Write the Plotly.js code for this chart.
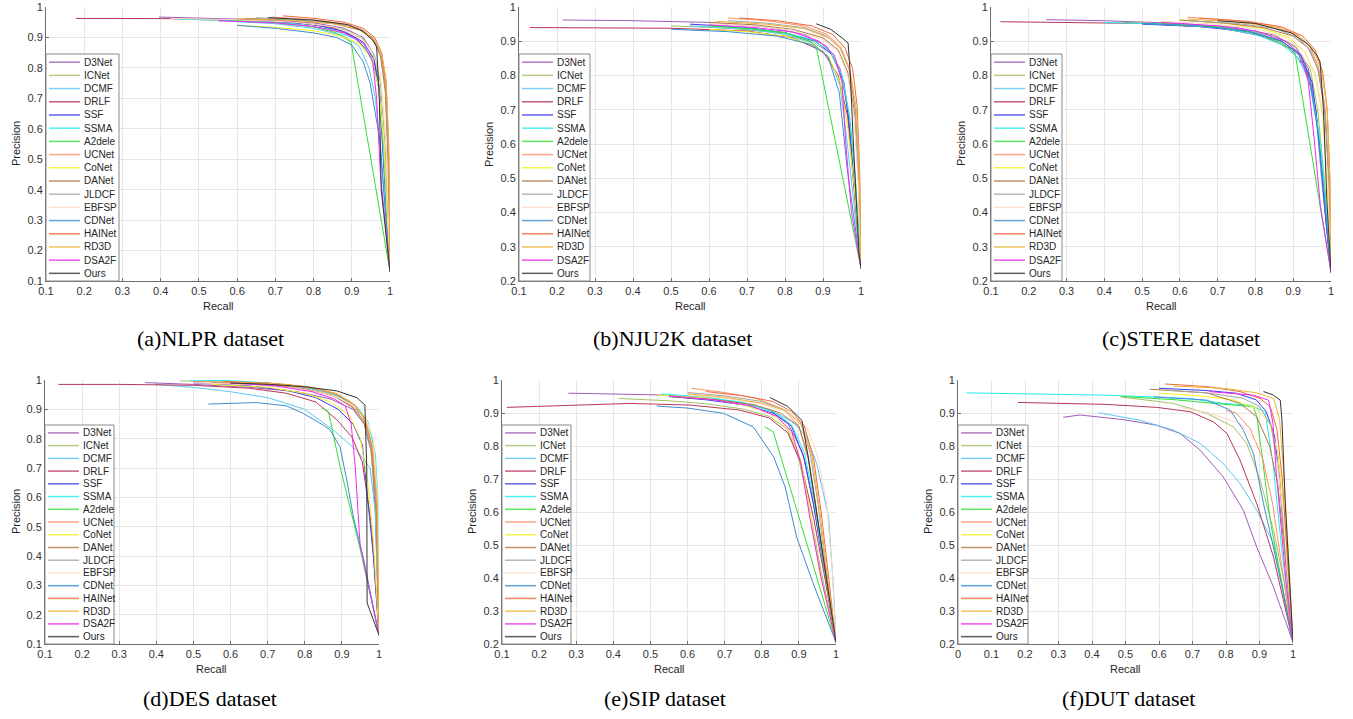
<!DOCTYPE html>
<html><head><meta charset="utf-8">
<script src="https://cdn.plot.ly/plotly-3.0.1.min.js"></script>
<style>html,body{margin:0;padding:0;background:#fff;}#chart{width:1353px;height:719px;}</style>
</head><body><div id="chart"></div>
<script>
const METHODS = ['D3Net','ICNet','DCMF','DRLF','SSF','SSMA','A2dele','UCNet','CoNet','DANet','JLDCF','EBFSP','CDNet','HAINet','RD3D','DSA2F','Ours'];
const COLORS = ['#A05CB8','#A3C166','#5CC8F2','#B8375A','#3A3AF0','#22EEEE','#33DD33','#FF8F66','#F2F222','#B07A45','#A6A6A6','#FFD9C0','#3C8DD0','#F06A3A','#EEB43A','#F02AF0','#333333'];
const CAPTIONS = ['(a)NLPR dataset','(b)NJU2K dataset','(c)STERE dataset','(d)DES dataset','(e)SIP dataset','(f)DUT dataset'];
const X_TICKS_01 = [0.1,0.2,0.3,0.4,0.5,0.6,0.7,0.8,0.9,1];
const X_TICKS_00 = [0,0.1,0.2,0.3,0.4,0.5,0.6,0.7,0.8,0.9,1];
const Y_TICKS_01 = [0.1,0.2,0.3,0.4,0.5,0.6,0.7,0.8,0.9,1];
const Y_TICKS_02 = [0.2,0.3,0.4,0.5,0.6,0.7,0.8,0.9,1];

// ---- NLPR (recall / precision per method, in METHODS order)
const NLPR_R = [
 [0.396,0.55,0.7,0.8,0.88,0.93,0.955,0.972,0.985,1],
 [0.5,0.7,0.8,0.88,0.93,0.96,0.975,0.987,1],
 [0.55,0.7,0.8,0.88,0.92,0.945,0.962,0.977,1],
 [0.178,0.4,0.6,0.75,0.85,0.91,0.95,0.97,0.985,1],
 [0.55,0.7,0.8,0.88,0.93,0.958,0.972,0.982,1],
 [0.45,0.6,0.75,0.85,0.91,0.95,0.97,0.982,1],
 [0.58,0.7,0.8,0.86,0.898,1],
 [0.69,0.8,0.88,0.93,0.96,0.976,0.987,0.994,1],
 [0.6,0.7,0.8,0.87,0.92,0.95,0.97,0.984,1],
 [0.62,0.75,0.85,0.92,0.955,0.975,0.988,0.995,1],
 [0.65,0.75,0.85,0.92,0.955,0.976,0.989,0.996,1],
 [0.426,0.6,0.75,0.85,0.92,0.95,0.975,0.99,1],
 [0.6,0.7,0.8,0.86,0.9,0.93,0.948,0.961,0.974,1],
 [0.72,0.8,0.88,0.93,0.96,0.978,0.99,0.997,1],
 [0.6,0.75,0.85,0.92,0.955,0.978,0.99,0.997,1],
 [0.55,0.7,0.8,0.88,0.93,0.955,0.965,0.975,1],
 [0.68,0.8,0.89,0.93,0.955,0.965,0.972,0.977,1]
];
const NLPR_P = [
 [0.967,0.963,0.957,0.948,0.93,0.9,0.85,0.74,0.5,0.13],
 [0.958,0.952,0.943,0.925,0.895,0.84,0.75,0.55,0.13],
 [0.955,0.945,0.93,0.905,0.87,0.8,0.7,0.5,0.13],
 [0.9625,0.962,0.958,0.95,0.932,0.9,0.84,0.74,0.5,0.13],
 [0.958,0.952,0.942,0.92,0.885,0.83,0.72,0.5,0.13],
 [0.96,0.956,0.945,0.925,0.895,0.84,0.74,0.55,0.13],
 [0.958,0.948,0.935,0.915,0.885,0.13],
 [0.967,0.958,0.945,0.925,0.89,0.84,0.75,0.55,0.13],
 [0.94,0.933,0.922,0.905,0.88,0.83,0.74,0.55,0.13],
 [0.963,0.957,0.946,0.925,0.895,0.84,0.72,0.5,0.13],
 [0.965,0.958,0.948,0.93,0.9,0.85,0.75,0.5,0.13],
 [0.9625,0.958,0.95,0.935,0.905,0.86,0.78,0.55,0.13],
 [0.94,0.93,0.915,0.9,0.875,0.82,0.75,0.65,0.56,0.13],
 [0.971,0.963,0.95,0.93,0.9,0.85,0.75,0.5,0.13],
 [0.962,0.955,0.945,0.928,0.9,0.85,0.76,0.55,0.13],
 [0.955,0.948,0.936,0.915,0.88,0.82,0.7,0.45,0.13],
 [0.965,0.957,0.942,0.92,0.89,0.87,0.7,0.4,0.13]
];

// ---- NJU2K
const NJU2K_R = [
 [0.215,0.4,0.6,0.75,0.85,0.91,0.945,0.965,0.98,1],
 [0.5,0.65,0.78,0.87,0.92,0.95,0.97,0.985,1],
 [0.55,0.7,0.8,0.87,0.915,0.945,0.962,0.978,1],
 [0.128,0.3,0.5,0.7,0.82,0.9,0.94,0.965,0.98,1],
 [0.55,0.7,0.8,0.88,0.925,0.955,0.97,0.985,1],
 [0.6,0.7,0.8,0.87,0.92,0.95,0.97,0.985,1],
 [0.6,0.7,0.8,0.865,0.882,1],
 [0.65,0.75,0.85,0.91,0.945,0.97,0.985,0.995,1],
 [0.6,0.7,0.8,0.87,0.915,0.945,0.965,0.982,1],
 [0.6,0.72,0.82,0.9,0.94,0.965,0.982,0.993,1],
 [0.65,0.75,0.85,0.91,0.945,0.968,0.985,0.995,1],
 [0.6,0.72,0.82,0.9,0.94,0.965,0.982,0.993,1],
 [0.5,0.65,0.78,0.87,0.913,0.943,0.965,0.985,1],
 [0.68,0.78,0.87,0.925,0.958,0.978,0.99,0.997,1],
 [0.62,0.75,0.85,0.915,0.95,0.972,0.988,0.996,1],
 [0.6,0.72,0.82,0.89,0.93,0.95,0.96,0.975,1],
 [0.882,0.92,0.95,0.966,0.972,0.98,0.995,1]
];
const NJU2K_P = [
 [0.962,0.96,0.955,0.942,0.92,0.885,0.82,0.7,0.5,0.237],
 [0.945,0.938,0.925,0.9,0.865,0.8,0.68,0.5,0.237],
 [0.945,0.935,0.92,0.895,0.855,0.77,0.62,0.45,0.237],
 [0.94,0.94,0.938,0.93,0.91,0.87,0.8,0.68,0.5,0.237],
 [0.95,0.94,0.925,0.9,0.86,0.78,0.65,0.45,0.237],
 [0.945,0.938,0.925,0.905,0.87,0.8,0.68,0.5,0.237],
 [0.945,0.937,0.925,0.9,0.885,0.237],
 [0.968,0.96,0.945,0.92,0.885,0.82,0.7,0.5,0.237],
 [0.935,0.928,0.915,0.89,0.855,0.78,0.65,0.48,0.237],
 [0.955,0.948,0.935,0.91,0.875,0.81,0.7,0.5,0.237],
 [0.96,0.953,0.94,0.915,0.88,0.82,0.7,0.5,0.237],
 [0.952,0.945,0.932,0.905,0.87,0.8,0.68,0.48,0.237],
 [0.935,0.928,0.915,0.89,0.856,0.749,0.515,0.35,0.237],
 [0.968,0.96,0.945,0.92,0.88,0.82,0.71,0.5,0.237],
 [0.958,0.95,0.937,0.91,0.875,0.81,0.7,0.5,0.237],
 [0.948,0.94,0.927,0.9,0.86,0.78,0.6,0.4,0.237],
 [0.951,0.935,0.91,0.895,0.8,0.6,0.28,0.237]
];

// ---- STERE
const STERE_R = [
 [0.246,0.4,0.6,0.75,0.85,0.905,0.94,0.96,0.975,1],
 [0.45,0.6,0.75,0.85,0.91,0.945,0.965,0.982,1],
 [0.5,0.65,0.78,0.86,0.91,0.94,0.962,0.98,1],
 [0.125,0.3,0.5,0.7,0.82,0.89,0.935,0.96,0.978,1],
 [0.5,0.65,0.78,0.87,0.92,0.95,0.968,0.983,1],
 [0.4,0.55,0.7,0.8,0.87,0.91,0.945,0.97,0.985,1],
 [0.55,0.7,0.8,0.87,0.905,1],
 [0.62,0.75,0.85,0.91,0.945,0.968,0.985,0.995,1],
 [0.6,0.72,0.82,0.89,0.93,0.958,0.978,0.99,1],
 [0.6,0.72,0.82,0.9,0.94,0.965,0.983,0.994,1],
 [0.62,0.75,0.85,0.91,0.945,0.968,0.985,0.995,1],
 [0.55,0.7,0.8,0.88,0.93,0.96,0.98,0.992,1],
 [0.5,0.65,0.78,0.87,0.915,0.945,0.965,0.982,1],
 [0.65,0.78,0.87,0.925,0.958,0.978,0.99,0.997,1],
 [0.62,0.75,0.85,0.915,0.952,0.975,0.99,0.997,1],
 [0.55,0.7,0.8,0.88,0.92,0.94,0.955,0.972,1],
 [0.7,0.8,0.896,0.94,0.962,0.971,0.98,0.989,1]
];
const STERE_P = [
 [0.963,0.96,0.952,0.94,0.918,0.885,0.82,0.7,0.5,0.225],
 [0.955,0.95,0.937,0.915,0.88,0.82,0.7,0.5,0.225],
 [0.952,0.945,0.93,0.905,0.87,0.8,0.66,0.45,0.225],
 [0.957,0.955,0.952,0.94,0.915,0.88,0.82,0.7,0.5,0.225],
 [0.95,0.943,0.928,0.9,0.86,0.78,0.62,0.42,0.225],
 [0.955,0.95,0.94,0.92,0.89,0.855,0.78,0.62,0.45,0.225],
 [0.952,0.942,0.925,0.895,0.865,0.225],
 [0.97,0.96,0.945,0.92,0.885,0.82,0.7,0.48,0.225],
 [0.962,0.952,0.937,0.91,0.87,0.8,0.68,0.48,0.225],
 [0.962,0.953,0.94,0.915,0.88,0.82,0.7,0.5,0.225],
 [0.96,0.952,0.938,0.912,0.875,0.81,0.69,0.48,0.225],
 [0.958,0.95,0.937,0.91,0.87,0.8,0.68,0.48,0.225],
 [0.952,0.945,0.93,0.9,0.86,0.78,0.64,0.45,0.225],
 [0.968,0.958,0.942,0.915,0.875,0.81,0.7,0.5,0.225],
 [0.965,0.956,0.942,0.915,0.878,0.815,0.7,0.5,0.225],
 [0.955,0.945,0.93,0.9,0.86,0.78,0.62,0.42,0.225],
 [0.96,0.952,0.924,0.89,0.86,0.841,0.7,0.437,0.225]
];

// ---- DES
const DES_R = [
 [0.37,0.5,0.65,0.78,0.87,0.93,0.96,0.98,0.99,1],
 [0.464,0.6,0.75,0.85,0.92,0.955,0.975,0.99,1],
 [0.396,0.5,0.6,0.7,0.8,0.876,0.94,0.976,0.99,1],
 [0.136,0.3,0.5,0.65,0.75,0.83,0.886,0.927,0.955,0.98,1],
 [0.5,0.65,0.75,0.83,0.89,0.93,0.955,0.97,0.985,1],
 [0.49,0.6,0.7,0.8,0.88,0.94,0.97,0.99,0.997,1],
 [0.846,0.864,0.895,0.95,1],
 [0.5,0.65,0.78,0.87,0.93,0.96,0.98,0.992,1],
 [0.55,0.7,0.8,0.87,0.92,0.95,0.97,0.985,1],
 [0.55,0.7,0.8,0.88,0.93,0.96,0.98,0.993,1],
 [0.6,0.72,0.82,0.89,0.935,0.962,0.982,0.994,1],
 [0.5,0.65,0.78,0.87,0.93,0.965,0.985,0.996,1],
 [0.54,0.67,0.75,0.796,0.85,0.868,0.895,0.913,0.931,0.96,1],
 [0.58,0.7,0.8,0.88,0.93,0.962,0.98,0.993,1],
 [0.6,0.72,0.82,0.89,0.935,0.965,0.983,0.995,1],
 [0.6,0.72,0.82,0.88,0.909,0.925,0.936,0.949,0.975,1],
 [0.6,0.707,0.8,0.886,0.94,0.962,0.967,0.968,1]
];
const DES_P = [
 [0.991,0.985,0.975,0.96,0.935,0.9,0.85,0.75,0.55,0.13],
 [0.997,0.993,0.985,0.965,0.93,0.88,0.8,0.6,0.13],
 [0.985,0.975,0.96,0.94,0.9,0.83,0.76,0.7,0.55,0.13],
 [0.985,0.985,0.982,0.972,0.955,0.925,0.865,0.806,0.72,0.5,0.13],
 [0.99,0.98,0.965,0.94,0.9,0.85,0.78,0.6,0.4,0.13],
 [0.999,0.998,0.99,0.975,0.95,0.91,0.86,0.75,0.6,0.13],
 [0.905,0.892,0.705,0.42,0.13],
 [0.995,0.99,0.975,0.95,0.91,0.86,0.78,0.6,0.13],
 [0.985,0.975,0.955,0.925,0.88,0.8,0.65,0.45,0.13],
 [0.99,0.983,0.97,0.945,0.905,0.85,0.76,0.55,0.13],
 [0.992,0.985,0.972,0.948,0.91,0.85,0.75,0.55,0.13],
 [0.99,0.985,0.972,0.95,0.915,0.87,0.8,0.6,0.13],
 [0.918,0.923,0.912,0.886,0.846,0.83,0.772,0.66,0.533,0.38,0.13],
 [0.995,0.99,0.978,0.955,0.92,0.87,0.78,0.6,0.13],
 [0.993,0.987,0.975,0.952,0.915,0.86,0.77,0.58,0.13],
 [0.99,0.98,0.96,0.935,0.912,0.85,0.704,0.44,0.28,0.13],
 [0.99,0.985,0.977,0.963,0.94,0.915,0.7,0.24,0.13]
];

// ---- SIP
const SIP_R = [
 [0.279,0.4,0.517,0.65,0.75,0.82,0.87,0.91,0.94,0.97,1],
 [0.414,0.55,0.65,0.75,0.82,0.87,0.9,0.93,0.96,1],
 [0.53,0.65,0.75,0.83,0.88,0.92,0.948,0.98,0.993,1],
 [0.113,0.25,0.445,0.607,0.74,0.82,0.87,0.905,0.94,0.97,1],
 [0.55,0.65,0.75,0.83,0.88,0.915,0.94,0.965,1],
 [0.53,0.65,0.75,0.83,0.88,0.915,0.94,0.965,1],
 [0.808,0.831,0.903,1],
 [0.611,0.7,0.787,0.86,0.9,0.925,0.948,0.97,1],
 [0.52,0.65,0.75,0.82,0.87,0.905,0.93,0.955,1],
 [0.55,0.68,0.78,0.85,0.9,0.925,0.948,0.97,1],
 [0.6,0.7,0.8,0.86,0.905,0.93,0.952,0.972,1],
 [0.6,0.7,0.8,0.87,0.921,0.95,0.975,0.99,1],
 [0.517,0.6,0.697,0.777,0.832,0.863,0.894,0.939,1],
 [0.65,0.75,0.83,0.88,0.915,0.94,0.96,0.978,1],
 [0.6,0.7,0.8,0.87,0.91,0.935,0.957,0.975,1],
 [0.55,0.67,0.77,0.84,0.88,0.905,0.93,0.96,1],
 [0.822,0.87,0.908,0.925,0.945,0.965,0.984,1]
];
const SIP_P = [
 [0.96,0.957,0.955,0.945,0.93,0.91,0.87,0.78,0.62,0.42,0.205],
 [0.944,0.937,0.928,0.912,0.89,0.85,0.76,0.6,0.42,0.205],
 [0.955,0.945,0.93,0.905,0.875,0.83,0.747,0.585,0.372,0.205],
 [0.917,0.922,0.929,0.924,0.909,0.885,0.84,0.75,0.58,0.4,0.205],
 [0.95,0.94,0.925,0.9,0.86,0.76,0.62,0.45,0.205],
 [0.958,0.948,0.932,0.905,0.865,0.78,0.64,0.45,0.205],
 [0.858,0.843,0.574,0.205],
 [0.975,0.962,0.944,0.91,0.86,0.76,0.6,0.42,0.205],
 [0.955,0.945,0.925,0.9,0.855,0.76,0.6,0.42,0.205],
 [0.95,0.94,0.925,0.9,0.86,0.77,0.6,0.42,0.205],
 [0.962,0.952,0.935,0.91,0.87,0.78,0.62,0.43,0.205],
 [0.955,0.945,0.928,0.9,0.858,0.77,0.626,0.42,0.205],
 [0.921,0.915,0.899,0.858,0.767,0.676,0.524,0.382,0.205],
 [0.965,0.952,0.935,0.905,0.86,0.76,0.6,0.42,0.205],
 [0.958,0.948,0.93,0.905,0.86,0.77,0.6,0.42,0.205],
 [0.952,0.94,0.922,0.89,0.845,0.75,0.58,0.4,0.205],
 [0.947,0.92,0.878,0.767,0.62,0.47,0.322,0.205]
];

// ---- DUT
const DUT_R = [
 [0.314,0.364,0.493,0.593,0.663,0.723,0.792,0.852,0.892,0.942,1],
 [0.484,0.643,0.743,0.822,0.862,0.902,0.942,0.975,1],
 [0.419,0.543,0.643,0.723,0.792,0.842,0.892,0.942,1],
 [0.179,0.444,0.593,0.693,0.763,0.803,0.842,0.892,0.942,1],
 [0.6,0.743,0.83,0.89,0.92,0.945,0.96,0.975,1],
 [0.025,0.2,0.444,0.693,0.792,0.872,0.917,0.94,0.965,1],
 [0.49,0.65,0.822,0.882,0.892,0.907,0.932,1],
 [0.8,0.83,0.872,0.91,0.94,0.965,1],
 [0.6,0.72,0.82,0.89,0.93,0.955,0.972,0.985,1],
 [0.573,0.743,0.842,0.892,0.93,0.955,0.975,1],
 [0.62,0.75,0.85,0.9,0.935,0.958,0.975,1],
 [0.663,0.75,0.842,0.912,0.952,0.97,0.985,1],
 [0.583,0.743,0.812,0.852,0.882,0.912,0.94,0.97,1],
 [0.618,0.743,0.842,0.902,0.932,0.952,0.968,0.985,1],
 [0.643,0.792,0.892,0.942,0.96,0.972,0.985,1],
 [0.75,0.85,0.882,0.927,0.94,0.95,0.965,0.98,1],
 [0.912,0.94,0.962,0.967,0.977,1]
];
const DUT_P = [
 [0.887,0.894,0.88,0.863,0.838,0.787,0.706,0.605,0.493,0.372,0.205],
 [0.949,0.929,0.899,0.858,0.808,0.696,0.544,0.38,0.205],
 [0.901,0.878,0.848,0.808,0.747,0.686,0.605,0.504,0.205],
 [0.932,0.926,0.917,0.904,0.873,0.838,0.757,0.625,0.463,0.205],
 [0.975,0.968,0.96,0.94,0.905,0.83,0.7,0.5,0.205],
 [0.961,0.958,0.954,0.944,0.929,0.924,0.904,0.75,0.5,0.205],
 [0.95,0.94,0.924,0.919,0.888,0.777,0.574,0.205],
 [0.908,0.9,0.853,0.76,0.62,0.45,0.205],
 [0.96,0.952,0.94,0.915,0.87,0.78,0.62,0.42,0.205],
 [0.972,0.961,0.929,0.888,0.8,0.68,0.48,0.205],
 [0.97,0.96,0.945,0.92,0.86,0.72,0.5,0.205],
 [0.917,0.9,0.868,0.787,0.757,0.6,0.4,0.205],
 [0.949,0.939,0.909,0.848,0.777,0.625,0.5,0.36,0.205],
 [0.988,0.98,0.965,0.944,0.919,0.85,0.7,0.45,0.205],
 [0.982,0.975,0.961,0.944,0.88,0.72,0.5,0.205],
 [0.965,0.958,0.954,0.939,0.87,0.72,0.55,0.38,0.205],
 [0.965,0.955,0.939,0.878,0.625,0.205]
];

// ---- layout (pixel geometry of each panel)
const W = 1353, H = 719;
const fx = p => p / W, fy = p => 1 - p / H;
const panels = [
 {R:NLPR_R, P:NLPR_P, xt:X_TICKS_01, yt:Y_TICKS_01, box:[46,7,390,281],  legTop:54,  legW:73, capX:210,  capY:338, ytX:16,   xtY:306},
 {R:NJU2K_R,P:NJU2K_P,xt:X_TICKS_01, yt:Y_TICKS_02, box:[519,7,861,281], legTop:54,  legW:71, capX:672,  capY:338, ytX:489,  xtY:306},
 {R:STERE_R,P:STERE_P,xt:X_TICKS_01, yt:Y_TICKS_02, box:[991,7,1331,281],legTop:54,  legW:71, capX:1181, capY:338, ytX:961,  xtY:306},
 {R:DES_R,  P:DES_P,  xt:X_TICKS_01, yt:Y_TICKS_01, box:[45,380,379,644], legTop:425, legW:69, capX:210,  capY:698, ytX:16,   xtY:669},
 {R:SIP_R,  P:SIP_P,  xt:X_TICKS_01, yt:Y_TICKS_02, box:[502,380,836,644],legTop:425, legW:69, capX:665,  capY:698, ytX:472,  xtY:669},
 {R:DUT_R,  P:DUT_P,  xt:X_TICKS_00, yt:Y_TICKS_02, box:[958,380,1293,644],legTop:425,legW:70, capX:1128, capY:698, ytX:928,  xtY:669}
];

const traces = [], shapes = [], annotations = [];
const layout = {width:W, height:H, autosize:false, margin:{l:0,r:0,t:0,b:0},
  paper_bgcolor:'#fff', plot_bgcolor:'#fff', showlegend:false,
  font:{family:'Liberation Sans, Arial, sans-serif', size:11, color:'#262626'}};
const tickFmt = v => String(Math.round(v*10)/10);
const axisCommon = {showline:true, linecolor:'#6e6e6e', linewidth:1, ticks:'inside', ticklen:3,
  tickcolor:'#6e6e6e', showgrid:true, gridcolor:'#e6e6e6', gridwidth:1, zeroline:false, fixedrange:true,
  tickfont:{family:'Liberation Sans, Arial, sans-serif', size:11, color:'#333333'}};

panels.forEach((pn, k) => {
  const id = k === 0 ? '' : String(k+1);
  const [x0,y0,x1,y1] = pn.box;
  layout['xaxis'+id] = Object.assign({}, axisCommon, {domain:[fx(x0), fx(x1)], anchor:'y'+id,
     range:[pn.xt[0], 1], tickmode:'array', tickvals:pn.xt, ticktext:pn.xt.map(tickFmt)});
  layout['yaxis'+id] = Object.assign({}, axisCommon, {domain:[fy(y1), fy(y0)], anchor:'x'+id,
     range:[pn.yt[0], 1], tickmode:'array', tickvals:pn.yt, ticktext:pn.yt.map(tickFmt)});
  METHODS.forEach((m, i) => {
    traces.push({type:'scatter', mode:'lines', name:m, x:pn.R[i], y:pn.P[i],
      xaxis:'x'+id, yaxis:'y'+id, line:{color:COLORS[i], width:1}, hoverinfo:'skip'});
  });
  annotations.push({xref:'paper', yref:'paper', x:fx((x0+x1)/2), y:fy(pn.xtY), text:'Recall',
    showarrow:false, xanchor:'center', yanchor:'middle', font:{size:11, color:'#262626'}});
  annotations.push({xref:'paper', yref:'paper', x:fx(pn.ytX), y:fy((y0+y1)/2), text:'Precision',
    showarrow:false, textangle:-90, xanchor:'center', yanchor:'middle', font:{size:11, color:'#262626'}});
  annotations.push({xref:'paper', yref:'paper', x:fx(pn.capX), y:fy(pn.capY), text:CAPTIONS[k],
    showarrow:false, xanchor:'center', yanchor:'middle',
    font:{family:'Liberation Serif, Times New Roman, serif', size:22, color:'#000'}});
  const lt = pn.legTop, lb = y1, ll = x0, lr = x0 + pn.legW;
  shapes.push({type:'rect', xref:'paper', yref:'paper', x0:fx(ll), x1:fx(lr), y0:fy(lb), y1:fy(lt),
    line:{color:'#8a8a8a', width:1}, fillcolor:'#ffffff', layer:'above'});
  const sp = (lb - lt) / 17.2, first = lt + sp * 0.62;
  METHODS.forEach((m, i) => {
    const yy = first + i * sp;
    shapes.push({type:'line', xref:'paper', yref:'paper', x0:fx(ll+3), x1:fx(ll+34), y0:fy(yy), y1:fy(yy),
      line:{color:COLORS[i], width:1.5}, opacity:0.8, layer:'above'});
    annotations.push({xref:'paper', yref:'paper', x:fx(ll+36), y:fy(yy), text:m, showarrow:false,
      xanchor:'left', yanchor:'middle', font:{size:10, color:'#262626'}});
  });
});
layout.shapes = shapes;
layout.annotations = annotations;
Plotly.newPlot('chart', traces, layout, {staticPlot:true, displayModeBar:false});
</script></body></html>
